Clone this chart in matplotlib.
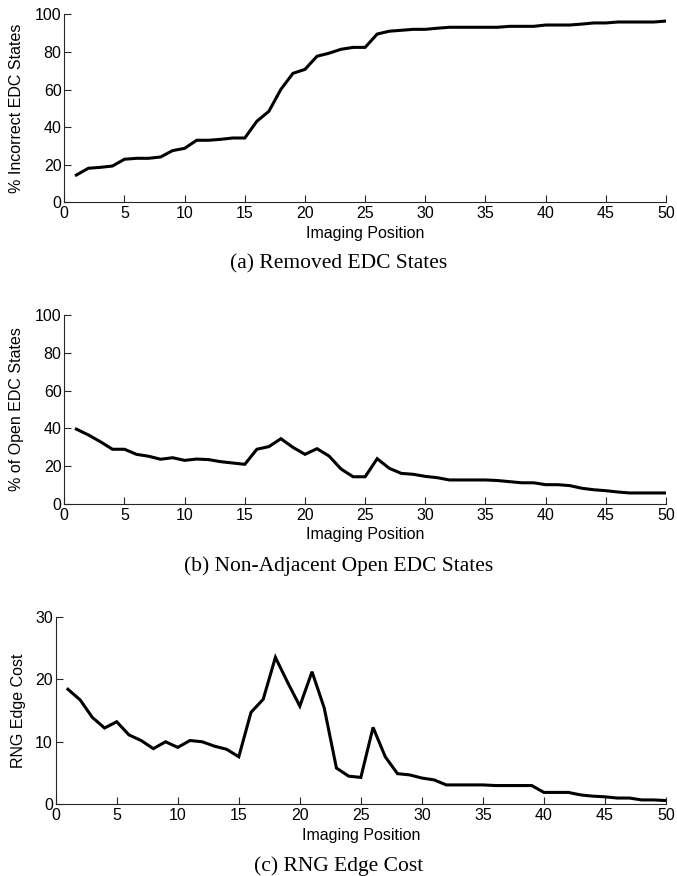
import matplotlib
matplotlib.use("Agg")
import matplotlib.pyplot as plt

W, H = 677, 876

positions = list(range(1, 51))

removed_states = [
    14.5, 18.1, 18.6, 19.3, 22.9, 23.4, 23.4, 24.1, 27.5, 28.7,
    33.0, 33.0, 33.5, 34.2, 34.2, 43.1, 48.4, 60.1, 68.6, 70.7,
    77.7, 79.3, 81.4, 82.4, 82.4, 89.5, 91.0, 91.5, 92.0, 92.0,
    92.6, 93.1, 93.1, 93.1, 93.1, 93.1, 93.6, 93.6, 93.6, 94.3,
    94.3, 94.3, 94.8, 95.4, 95.4, 95.9, 95.9, 95.9, 95.9, 96.4,
]

open_states = [
    39.6, 36.5, 32.9, 28.9, 28.9, 26.2, 25.2, 23.6, 24.4, 23.0,
    23.7, 23.4, 22.3, 21.6, 20.9, 28.9, 30.3, 34.5, 29.9, 26.2,
    29.2, 25.3, 18.4, 14.3, 14.3, 23.9, 18.8, 16.1, 15.6, 14.5,
    13.8, 12.6, 12.6, 12.6, 12.6, 12.3, 11.7, 11.1, 11.1, 10.1,
    10.1, 9.6, 8.2, 7.4, 6.9, 6.2, 5.7, 5.7, 5.7, 5.7,
]

edge_cost = [
    18.4, 16.7, 13.9, 12.2, 13.2, 11.1, 10.2, 8.9, 10.0, 9.1,
    10.2, 10.0, 9.3, 8.8, 7.6, 14.7, 16.8, 23.5, 19.5, 15.7,
    21.2, 15.4, 5.8, 4.5, 4.3, 12.3, 7.6, 4.9, 4.7, 4.2,
    3.9, 3.1, 3.1, 3.1, 3.1, 3.0, 3.0, 3.0, 3.0, 1.9,
    1.9, 1.9, 1.5, 1.3, 1.2, 1.0, 1.0, 0.7, 0.7, 0.6,
]

x_ticks = list(range(0, 51, 5))

panels = [
    # data, ylim, yticks, ylabel, caption, (left, right, top, bottom) px, ylabel x px, caption y px
    (removed_states, 100, range(0, 101, 20), "% Incorrect EDC States",
     "(a) Removed EDC States", (64.3, 666, 14.3, 202.3), 17, 264),
    (open_states, 100, range(0, 101, 20), "% of Open EDC States",
     "(b) Non-Adjacent Open EDC States", (64.3, 666, 315.3, 503.7), 17, 566),
    (edge_cost, 30, range(0, 31, 10), "RNG Edge Cost",
     "(c) RNG Edge Cost", (55.7, 666, 616.7, 804.3), 18, 866),
]

sans = ["Liberation Sans", "DejaVu Sans"]
serif = ["Liberation Serif", "DejaVu Serif"]


def main():
    fig = plt.figure(figsize=(W / 100, H / 100), dpi=100)

    for data, ymax, yticks, ylabel, caption, box, ylab_x, cap_y in panels:
        left, right, top, bottom = box
        ax = fig.add_axes([left / W, 1 - bottom / H,
                           (right - left) / W, (bottom - top) / H])
        ax.plot(positions, data, color="black", linewidth=2.2,
                solid_joinstyle="miter")
        ax.set_xlim(0, 50)
        ax.set_ylim(0, ymax)
        ax.set_xticks(x_ticks)
        ax.set_yticks(list(yticks))

        for side in ("top", "right"):
            ax.spines[side].set_visible(False)
        for side in ("left", "bottom"):
            ax.spines[side].set_color("#262626")
            ax.spines[side].set_linewidth(0.8)

        ax.tick_params(direction="in", length=5, width=0.8,
                       color="#262626", labelsize=11.5)
        ax.tick_params(axis="x", pad=3)
        ax.tick_params(axis="y", pad=2)
        for lbl in ax.get_xticklabels() + ax.get_yticklabels():
            lbl.set_family(sans)

        ax.set_xlabel("Imaging Position", fontsize=11.5, family=sans)
        ax.xaxis.label.set_va("center")
        ax.xaxis.set_label_coords(0.5, -31 / (bottom - top))

        ax.set_ylabel(ylabel, fontsize=11.5, family=sans)
        ax.yaxis.label.set_va("center")
        ax.yaxis.set_label_coords((ylab_x - left) / (right - left), 0.5)

        fig.text(0.5, 1 - cap_y / H, caption, ha="center", va="center",
                 fontsize=15.5, family=serif)

    fig.savefig("out.png", dpi=100)


if __name__ == "__main__":
    main()
